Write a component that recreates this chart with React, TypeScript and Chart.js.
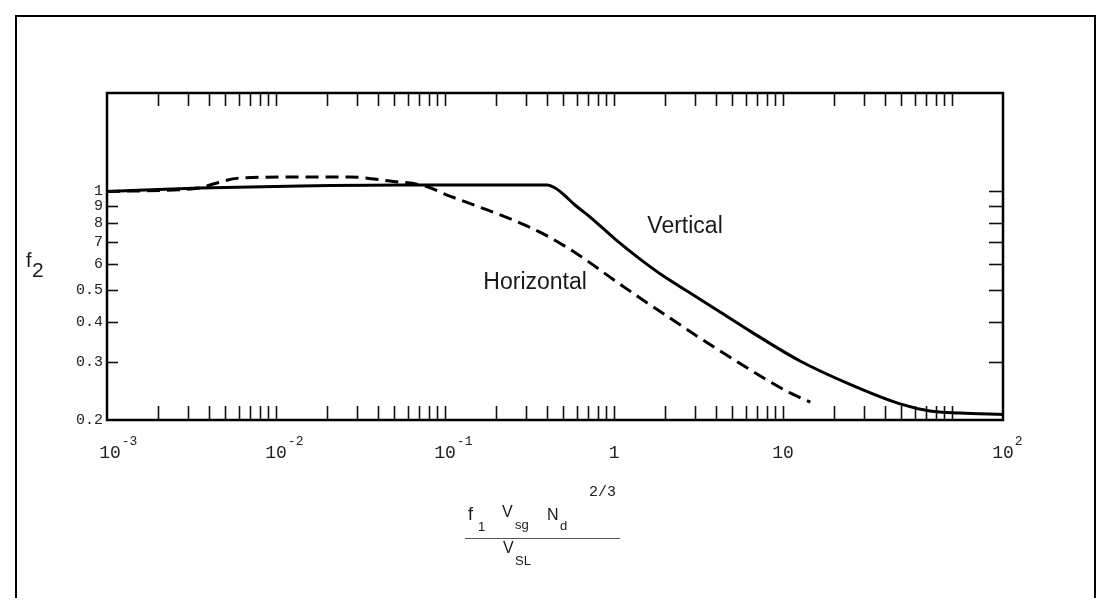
import React, { useEffect, useRef } from 'react';
import { Chart, registerables } from 'chart.js';

Chart.register(...registerables);

// ---- data ----
const verticalX = [0.001, 0.00355, 0.0139, 0.0542, 0.278, 0.402, 0.448, 0.499, 0.587, 0.722, 1.014, 1.425, 2.0, 2.82, 4.24, 6.38, 12.6, 24.9, 49.2, 74.1, 111, 200];
const verticalY = [1.0, 1.024, 1.039, 1.046, 1.046, 1.046, 1.024, 0.982, 0.909, 0.835, 0.715, 0.621, 0.547, 0.489, 0.428, 0.374, 0.303, 0.257, 0.224, 0.213, 0.21, 0.208];

const horizontalX = [0.001, 0.00355, 0.00424, 0.00612, 0.0139, 0.0274, 0.0473, 0.0762, 0.1028, 0.161, 0.252, 0.402, 0.63, 0.946, 1.425, 2.14, 3.23, 5.06, 8.04, 11.0, 14.5];
const horizontalY = [1.0, 1.024, 1.054, 1.099, 1.107, 1.107, 1.076, 1.039, 0.975, 0.895, 0.818, 0.731, 0.635, 0.547, 0.472, 0.41, 0.356, 0.307, 0.265, 0.242, 0.227];

const xMin = 0.001;
const xMax = 200;
const yMin = 0.2;
const yMax = 2;

const xDecades = [0.001, 0.01, 0.1, 1, 10];
const xMinorMultipliers = [2, 3, 4, 5, 6, 7, 8, 9];
const xMajorTicks = [0.001, 0.01, 0.1, 1, 10, 200];
const xMajorBase = ['10', '10', '10', '1', '10', '10'];
const xMajorExp = ['-3', '-2', '-1', '', '', '2'];

const yTickValues = [0.2, 0.3, 0.4, 0.5, 0.6, 0.7, 0.8, 0.9, 1];
const yTickLabels = ['0.2', '0.3', '0.4', '0.5', '6', '7', '8', '9', '1'];

const curveLabels = ['Vertical', 'Horizontal'];
const curveLabelX = [2.63, 0.341];
const curveLabelY = [0.778, 0.525];

const xAllTicks: number[] = [];
xDecades.forEach((d) => {
  xAllTicks.push(d);
  xMinorMultipliers.forEach((m) => xAllTicks.push(d * m));
});
xAllTicks.push(100);

const SANS = '"Liberation Sans", Arial, sans-serif';
const MONO = '"Liberation Mono", "DejaVu Sans Mono", monospace';

const framePlugin = {
  id: 'frameAndText',
  afterDraw(chart: any) {
    const { ctx, chartArea } = chart;
    const { left, right, top, bottom } = chartArea;
    const xs = chart.scales.x;
    const ys = chart.scales.y;
    ctx.save();
    ctx.strokeStyle = '#111';
    ctx.lineCap = 'butt';
    const line = (x1: number, y1: number, x2: number, y2: number) => {
      ctx.beginPath();
      ctx.moveTo(x1, y1);
      ctx.lineTo(x2, y2);
      ctx.stroke();
    };
    // inward ticks
    ctx.lineWidth = 1.6;
    xAllTicks.forEach((v) => {
      const px = Math.round(xs.getPixelForValue(v)) + 0.5;
      if (px <= left + 1 || px >= right - 1) return;
      line(px, top, px, top + 13);
      line(px, bottom, px, bottom - 14);
    });
    yTickValues.forEach((v) => {
      const py = Math.round(ys.getPixelForValue(v)) + 0.5;
      if (py >= bottom - 1) return;
      line(left, py, left + 11, py);
      line(right, py, right - 14, py);
    });
    // frame
    ctx.lineWidth = 2.5;
    ctx.strokeStyle = '#000';
    ctx.strokeRect(left, top, right - left, bottom - top);

    // x tick labels with superscripts
    ctx.fillStyle = '#222';
    ctx.textBaseline = 'alphabetic';
    ctx.textAlign = 'left';
    xMajorTicks.forEach((v, i) => {
      const px = xs.getPixelForValue(v);
      ctx.font = '18px ' + MONO;
      const w = ctx.measureText(xMajorBase[i]).width;
      ctx.fillText(xMajorBase[i], px - w / 2 + (i === 0 ? 3 : 0), bottom + 38);
      if (xMajorExp[i]) {
        ctx.font = '13px ' + MONO;
        ctx.fillText(xMajorExp[i], px + w / 2 + 1 + (i === 0 ? 3 : 0), bottom + 25);
      }
    });

    // curve labels
    ctx.font = '23px ' + SANS;
    ctx.textAlign = 'center';
    ctx.textBaseline = 'middle';
    ctx.fillStyle = '#1a1a1a';
    curveLabels.forEach((t, i) => {
      ctx.fillText(t, xs.getPixelForValue(curveLabelX[i]), ys.getPixelForValue(curveLabelY[i]));
    });

    // y axis title f2
    ctx.textAlign = 'left';
    ctx.textBaseline = 'alphabetic';
    ctx.font = '20px ' + SANS;
    ctx.fillText('f', 9, 250);
    ctx.font = '21px ' + SANS;
    ctx.fillText('2', 15, 260);

    // x axis title (fraction)
    ctx.font = '15px ' + MONO;
    ctx.fillText('2/3', 572, 479);
    ctx.font = '18px ' + SANS;
    ctx.fillText('f', 451, 503);
    ctx.font = '13px ' + SANS;
    ctx.fillText('1', 461, 514);
    ctx.font = '16px ' + SANS;
    ctx.fillText('V', 485, 500);
    ctx.font = '13px ' + SANS;
    ctx.fillText('sg', 498, 512);
    ctx.font = '16px ' + SANS;
    ctx.fillText('N', 530, 503);
    ctx.font = '13px ' + SANS;
    ctx.fillText('d', 543, 513);
    ctx.lineWidth = 1;
    ctx.strokeStyle = '#555';
    line(448, 521.5, 603, 521.5);
    ctx.font = '16px ' + SANS;
    ctx.fillText('V', 486, 536);
    ctx.font = '13px ' + SANS;
    ctx.fillText('SL', 498, 548);

    ctx.restore();
  },
};

export default function App() {
  const ref = useRef<HTMLCanvasElement | null>(null);

  useEffect(() => {
    if (!ref.current) return;
    const chart = new Chart(ref.current, {
      type: 'line',
      data: {
        datasets: [
          {
            label: 'Vertical',
            data: verticalX.map((x, i) => ({ x, y: verticalY[i] })),
            borderColor: '#000',
            borderWidth: 3,
            pointRadius: 0,
            fill: false,
            cubicInterpolationMode: 'monotone',
          },
          {
            label: 'Horizontal',
            data: horizontalX.map((x, i) => ({ x, y: horizontalY[i] })),
            borderColor: '#000',
            borderWidth: 3,
            borderDash: [13, 7],
            pointRadius: 0,
            fill: false,
            cubicInterpolationMode: 'monotone',
          },
        ],
      },
      options: {
        responsive: false,
        animation: false,
        layout: { padding: { top: 76, right: 91, left: 0, bottom: 0 } },
        plugins: { legend: { display: false }, tooltip: { enabled: false } },
        scales: {
          x: {
            type: 'logarithmic',
            min: xMin,
            max: xMax,
            grid: { display: false, drawTicks: false },
            border: { display: false },
            ticks: { display: false },
            afterBuildTicks: (s: any) => {
              s.ticks = xAllTicks.map((v) => ({ value: v }));
            },
            afterFit: (s: any) => {
              s.height = 185;
            },
          },
          y: {
            type: 'logarithmic',
            min: yMin,
            max: yMax,
            grid: { display: false, drawTicks: false },
            border: { display: false },
            ticks: {
              padding: 4,
              autoSkip: false,
              color: '#222',
              font: { family: MONO, size: 15 },
              callback: (_v: any, i: number) => yTickLabels[i] ?? '',
            },
            afterBuildTicks: (s: any) => {
              s.ticks = yTickValues.map((v) => ({ value: v }));
            },
            afterFit: (s: any) => {
              s.width = 90;
            },
          },
        },
      } as any,
      plugins: [framePlugin],
    });
    return () => chart.destroy();
  }, []);

  return (
    <div
      style={{
        position: 'relative',
        top: 7,
        left: 7,
        width: 1081,
        height: 590,
        boxSizing: 'border-box',
        borderTop: '2px solid #000',
        borderLeft: '2px solid #000',
        borderRight: '2px solid #000',
        background: '#fff',
      }}
    >
      <canvas
        ref={ref}
        width={1077}
        height={588}
        style={{ position: 'absolute', left: 0, top: 0, display: 'block', width: 1077, height: 588 }}
      />
    </div>
  );
}
